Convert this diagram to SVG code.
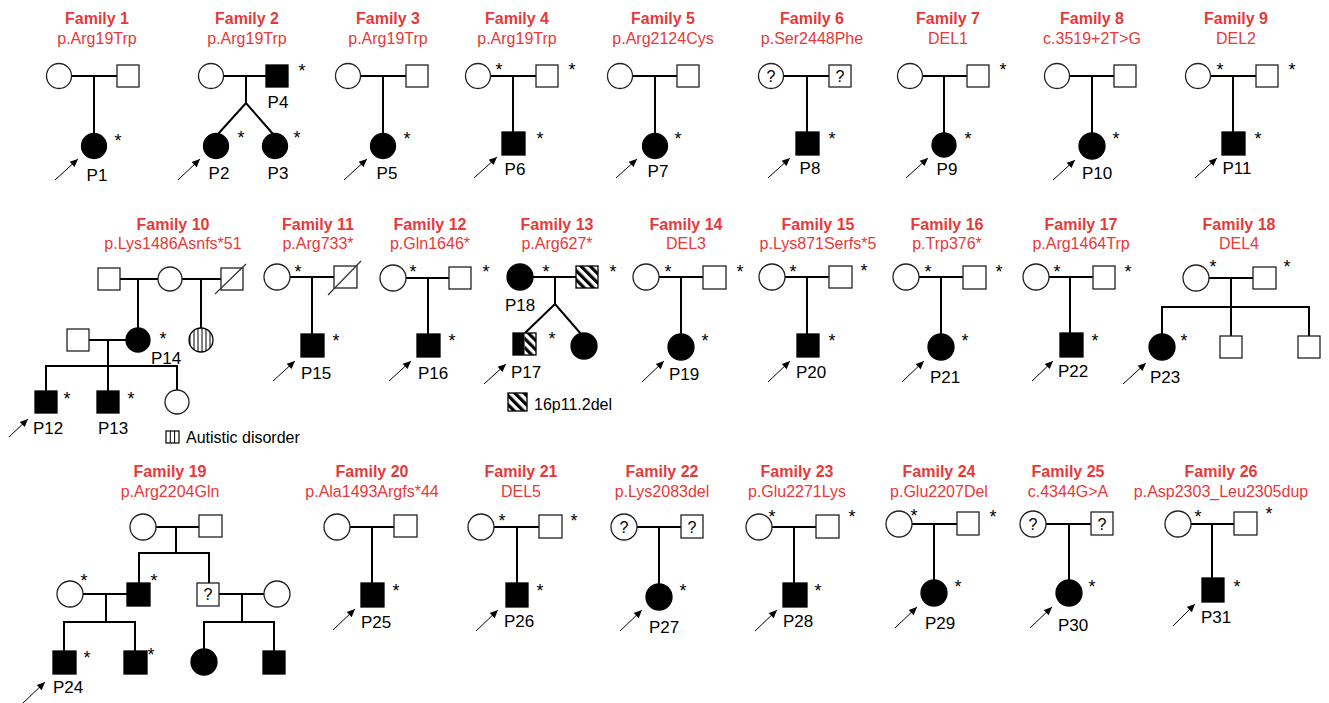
<svg xmlns="http://www.w3.org/2000/svg" width="1329" height="703" viewBox="0 0 1329 703">
<defs>
<style>
.t{font:bold 16px 'Liberation Sans',Arial,sans-serif;fill:#e8393a;text-anchor:middle}
.s{font:16px 'Liberation Sans',Arial,sans-serif;fill:#e8393a;text-anchor:middle}
.l{font:17px 'Liberation Sans',Arial,sans-serif;fill:#000;text-anchor:middle}
.g{font:16px 'Liberation Sans',Arial,sans-serif;fill:#000}
.a{font:18px 'Liberation Sans',Arial,sans-serif;fill:#000;text-anchor:middle}
.q{font:16px 'Liberation Sans',Arial,sans-serif;fill:#000;text-anchor:middle}
.o{fill:#fff;stroke:#222;stroke-width:1.3}
.f{fill:#000;stroke:#000;stroke-width:1.3}
.h{fill:url(#hatch);stroke:#000;stroke-width:1.3}
.v{fill:url(#vstripe);stroke:#000;stroke-width:1.3}
.c line,.c path{stroke:#000;stroke-width:2;fill:none}
.p line{stroke:#000;stroke-width:1;marker-end:url(#ah)}
.sl{stroke:#333;stroke-width:1.2}
</style>
<marker id="ah" viewBox="0 0 10 10" refX="10" refY="5" markerWidth="10" markerHeight="8" markerUnits="userSpaceOnUse" orient="auto"><path d="M0,0.5 L10,5 L0,9.5 z" fill="#000"/></marker>
<pattern id="hatch" width="6.5" height="6.5" patternUnits="userSpaceOnUse" patternTransform="rotate(-45)"><rect width="6.5" height="6.5" fill="#fff"/><rect width="3.2" height="6.5" fill="#000"/></pattern>
<pattern id="vstripe" width="4" height="4" patternUnits="userSpaceOnUse"><rect width="4" height="4" fill="#fff"/><rect x="1.5" width="1" height="4" fill="#000"/></pattern>
</defs>
<rect width="1329" height="703" fill="#fff"/>

<g id="titles">
<text class="t" x="97" y="24">Family 1</text><text class="s" x="97" y="44">p.Arg19Trp</text>
<text class="t" x="247" y="24">Family 2</text><text class="s" x="247" y="44">p.Arg19Trp</text>
<text class="t" x="388" y="24">Family 3</text><text class="s" x="388" y="44">p.Arg19Trp</text>
<text class="t" x="517" y="24">Family 4</text><text class="s" x="517" y="44">p.Arg19Trp</text>
<text class="t" x="663" y="24">Family 5</text><text class="s" x="663" y="44">p.Arg2124Cys</text>
<text class="t" x="812" y="24">Family 6</text><text class="s" x="812" y="44">p.Ser2448Phe</text>
<text class="t" x="948" y="24">Family 7</text><text class="s" x="948" y="44">DEL1</text>
<text class="t" x="1092" y="24">Family 8</text><text class="s" x="1092" y="44">c.3519+2T&gt;G</text>
<text class="t" x="1236" y="24">Family 9</text><text class="s" x="1236" y="44">DEL2</text>
<text class="t" x="173" y="230">Family 10</text><text class="s" x="173" y="249">p.Lys1486Asnfs*51</text>
<text class="t" x="318" y="230">Family 11</text><text class="s" x="318" y="249">p.Arg733*</text>
<text class="t" x="430" y="230">Family 12</text><text class="s" x="430" y="249">p.Gln1646*</text>
<text class="t" x="557" y="230">Family 13</text><text class="s" x="557" y="249">p.Arg627*</text>
<text class="t" x="686" y="230">Family 14</text><text class="s" x="686" y="249">DEL3</text>
<text class="t" x="818" y="230">Family 15</text><text class="s" x="818" y="249">p.Lys871Serfs*5</text>
<text class="t" x="947" y="230">Family 16</text><text class="s" x="947" y="249">p.Trp376*</text>
<text class="t" x="1081" y="230">Family 17</text><text class="s" x="1081" y="249">p.Arg1464Trp</text>
<text class="t" x="1239" y="230">Family 18</text><text class="s" x="1239" y="249">DEL4</text>
<text class="t" x="170" y="477">Family 19</text><text class="s" x="170" y="497">p.Arg2204Gln</text>
<text class="t" x="372" y="477">Family 20</text><text class="s" x="372" y="497">p.Ala1493Argfs*44</text>
<text class="t" x="521" y="477">Family 21</text><text class="s" x="521" y="497">DEL5</text>
<text class="t" x="662" y="477">Family 22</text><text class="s" x="662" y="497">p.Lys2083del</text>
<text class="t" x="797" y="477">Family 23</text><text class="s" x="797" y="497">p.Glu2271Lys</text>
<text class="t" x="939" y="477">Family 24</text><text class="s" x="939" y="497">p.Glu2207Del</text>
<text class="t" x="1068" y="477">Family 25</text><text class="s" x="1068" y="497">c.4344G&gt;A</text>
<text class="t" x="1221" y="477">Family 26</text><text class="s" x="1221" y="497">p.Asp2303_Leu2305dup</text>
</g>

<g id="connectors" class="c">
<line x1="71.5" y1="76" x2="117" y2="76"/><line x1="94" y1="76" x2="94" y2="133.5"/>
<line x1="223.5" y1="76" x2="266" y2="76"/><line x1="246" y1="76" x2="246" y2="103"/><path d="M218,134 L246,103 L273,134"/>
<line x1="360.5" y1="76" x2="406" y2="76"/><line x1="383" y1="76" x2="383" y2="133.5"/>
<line x1="490.5" y1="76" x2="536" y2="76"/><line x1="513" y1="76" x2="513" y2="132"/>
<line x1="632.5" y1="76" x2="677" y2="76"/><line x1="655" y1="76" x2="655" y2="133.5"/>
<line x1="783.5" y1="76" x2="829" y2="76"/><line x1="807" y1="76" x2="807" y2="132"/>
<line x1="922.5" y1="76" x2="967" y2="76"/><line x1="944" y1="76" x2="944" y2="133"/>
<line x1="1069.5" y1="76" x2="1114" y2="76"/><line x1="1092" y1="76" x2="1092" y2="133"/>
<line x1="1210.5" y1="76" x2="1256" y2="76"/><line x1="1233" y1="76" x2="1233" y2="132"/>
<line x1="120" y1="279" x2="158" y2="279"/><line x1="182" y1="279" x2="221" y2="279"/>
<line x1="138" y1="279" x2="138" y2="328"/><line x1="201" y1="279" x2="201" y2="328"/>
<line x1="89" y1="340" x2="126" y2="340"/><line x1="108" y1="340" x2="108" y2="366"/>
<path d="M46,391 V366 H177 V390"/><line x1="108" y1="366" x2="108" y2="391"/>
<line x1="290" y1="277" x2="334" y2="277"/><line x1="312" y1="277" x2="312" y2="334"/>
<line x1="406" y1="278" x2="449" y2="278"/><line x1="428" y1="278" x2="428" y2="334"/>
<line x1="533" y1="277" x2="576" y2="277"/><line x1="555" y1="277" x2="555" y2="304"/><path d="M525,333 L555,304 L581,334"/>
<line x1="659" y1="277" x2="703" y2="277"/><line x1="681" y1="277" x2="681" y2="334"/>
<line x1="785" y1="277" x2="829" y2="277"/><line x1="807" y1="277" x2="807" y2="334"/>
<line x1="919" y1="277" x2="963" y2="277"/><line x1="941" y1="277" x2="941" y2="334"/>
<line x1="1049" y1="277" x2="1093" y2="277"/><line x1="1070" y1="277" x2="1070" y2="333"/>
<line x1="1209" y1="278" x2="1253" y2="278"/><line x1="1231" y1="278" x2="1231" y2="336"/>
<path d="M1162,334 V307 H1309 V336"/>
<line x1="156" y1="527" x2="199" y2="527"/><line x1="176" y1="527" x2="176" y2="553"/>
<path d="M139,583 V553 H209 V583"/>
<line x1="83" y1="594" x2="127" y2="594"/><line x1="106" y1="594" x2="106" y2="622"/>
<path d="M64,651 V622 H135 V651"/>
<line x1="219" y1="594" x2="264" y2="594"/><line x1="242" y1="594" x2="242" y2="622"/>
<path d="M204,649 V622 H274 V651"/>
<line x1="350" y1="527" x2="394" y2="527"/><line x1="372" y1="527" x2="372" y2="583"/>
<line x1="494" y1="527" x2="539" y2="527"/><line x1="517" y1="527" x2="517" y2="583"/>
<line x1="637" y1="527" x2="681" y2="527"/><line x1="659" y1="527" x2="659" y2="584"/>
<line x1="772" y1="527" x2="816" y2="527"/><line x1="794" y1="527" x2="794" y2="583"/>
<line x1="912" y1="524" x2="957" y2="524"/><line x1="934" y1="524" x2="934" y2="580"/>
<line x1="1046" y1="524" x2="1091" y2="524"/><line x1="1069" y1="524" x2="1069" y2="580"/>
<line x1="1191" y1="524" x2="1234" y2="524"/><line x1="1212" y1="524" x2="1212" y2="578"/>
</g>

<g id="proband-arrows" class="p">
<line x1="55" y1="180" x2="78" y2="159"/>
<line x1="178" y1="180" x2="200" y2="159"/>
<line x1="344" y1="180" x2="367" y2="159"/>
<line x1="474" y1="178" x2="497" y2="157"/>
<line x1="616" y1="178" x2="637" y2="159"/>
<line x1="768" y1="178" x2="790" y2="158"/>
<line x1="906" y1="178" x2="928" y2="158"/>
<line x1="1053" y1="180" x2="1075" y2="160"/>
<line x1="1195" y1="178" x2="1217" y2="158"/>
<line x1="9" y1="437" x2="28" y2="419"/>
<line x1="273" y1="381" x2="295" y2="361"/>
<line x1="389" y1="381" x2="411" y2="361"/>
<line x1="484" y1="384" x2="506" y2="364"/>
<line x1="642" y1="382" x2="664" y2="361"/>
<line x1="768" y1="382" x2="790" y2="361"/>
<line x1="902" y1="382" x2="924" y2="361"/>
<line x1="1032" y1="381" x2="1053" y2="361"/>
<line x1="1123" y1="384" x2="1146" y2="363"/>
<line x1="23" y1="703" x2="45" y2="682"/>
<line x1="333" y1="630" x2="355" y2="609"/>
<line x1="476" y1="631" x2="498" y2="610"/>
<line x1="620" y1="631" x2="642" y2="610"/>
<line x1="755" y1="631" x2="777" y2="610"/>
<line x1="895" y1="628" x2="917" y2="607"/>
<line x1="1030" y1="628" x2="1052" y2="607"/>
<line x1="1173" y1="626" x2="1195" y2="604"/>
</g>

<g id="f1-mother"><circle class="o" cx="59" cy="76" r="12.5"/></g>
<g id="f1-father"><rect class="o" x="117" y="65" width="22" height="22"/></g>
<g id="P1"><circle class="f" cx="94" cy="146" r="12.5"/><text class="a" x="118" y="147">*</text><text class="l" x="97" y="181">P1</text></g>
<g id="f2-mother"><circle class="o" cx="211" cy="76" r="12.5"/></g>
<g id="P4"><rect class="f" x="266" y="65" width="22" height="22"/><text class="a" x="302" y="77">*</text><text class="l" x="278" y="108">P4</text></g>
<g id="P2"><circle class="f" cx="216" cy="146" r="12.5"/><text class="a" x="241" y="144">*</text><text class="l" x="219" y="179">P2</text></g>
<g id="P3"><circle class="f" cx="275" cy="146" r="12.5"/><text class="a" x="297" y="144">*</text><text class="l" x="278" y="179">P3</text></g>
<g id="f3-mother"><circle class="o" cx="348" cy="76" r="12.5"/></g>
<g id="f3-father"><rect class="o" x="406" y="65" width="22" height="22"/></g>
<g id="P5"><circle class="f" cx="383" cy="146" r="12.5"/><text class="a" x="407" y="145">*</text><text class="l" x="387" y="179">P5</text></g>
<g id="f4-mother"><circle class="o" cx="478" cy="76" r="12.5"/><text class="a" x="499" y="76">*</text></g>
<g id="f4-father"><rect class="o" x="536" y="65" width="22" height="22"/><text class="a" x="572" y="76">*</text></g>
<g id="P6"><rect class="f" x="502" y="132" width="23" height="23"/><text class="a" x="540" y="145">*</text><text class="l" x="515" y="175">P6</text></g>
<g id="f5-mother"><circle class="o" cx="620" cy="76" r="12.5"/></g>
<g id="f5-father"><rect class="o" x="677" y="65" width="22" height="22"/></g>
<g id="P7"><circle class="f" cx="655" cy="146" r="12.5"/><text class="a" x="678" y="145">*</text><text class="l" x="658" y="177">P7</text></g>
<g id="f6-mother"><circle class="o" cx="771" cy="76" r="12.5"/><text class="q" x="771" y="82">?</text></g>
<g id="f6-father"><rect class="o" x="829" y="65" width="22" height="22"/><text class="q" x="840" y="82">?</text></g>
<g id="P8"><rect class="f" x="796" y="132" width="23" height="23"/><text class="a" x="832" y="145">*</text><text class="l" x="810" y="174">P8</text></g>
<g id="f7-mother"><circle class="o" cx="910" cy="76" r="12.5"/></g>
<g id="f7-father"><rect class="o" x="967" y="65" width="22" height="22"/><text class="a" x="1003" y="76">*</text></g>
<g id="P9"><circle class="f" cx="944" cy="145" r="12"/><text class="a" x="968" y="145">*</text><text class="l" x="947" y="175">P9</text></g>
<g id="f8-mother"><circle class="o" cx="1057" cy="76" r="12.5"/></g>
<g id="f8-father"><rect class="o" x="1114" y="65" width="22" height="22"/></g>
<g id="P10"><circle class="f" cx="1092" cy="146" r="13"/><text class="a" x="1116" y="145">*</text><text class="l" x="1097" y="179">P10</text></g>
<g id="f9-mother"><circle class="o" cx="1198" cy="76" r="12.5"/><text class="a" x="1220" y="76">*</text></g>
<g id="f9-father"><rect class="o" x="1256" y="65" width="22" height="22"/><text class="a" x="1292" y="76">*</text></g>
<g id="P11"><rect class="f" x="1222" y="132" width="23" height="23"/><text class="a" x="1258" y="145">*</text><text class="l" x="1237" y="174">P11</text></g>

<g id="f10-grandfather1"><rect class="o" x="98" y="268" width="22" height="22"/></g>
<g id="f10-grandmother"><circle class="o" cx="170" cy="279" r="12"/></g>
<g id="f10-grandfather2"><rect class="o" x="221" y="268" width="22" height="22"/><line class="sl" x1="215" y1="294" x2="246" y2="264"/></g>
<g id="P14"><circle class="f" cx="138" cy="340" r="12"/><text class="a" x="163" y="345">*</text><text class="l" x="166" y="364">P14</text></g>
<g id="f10-aunt"><circle class="v" cx="201" cy="340" r="12"/></g>
<g id="f10-father"><rect class="o" x="67" y="329" width="22" height="22"/></g>
<g id="P12"><rect class="f" x="35" y="391" width="22" height="22"/><text class="a" x="67" y="405">*</text><text class="l" x="48" y="434">P12</text></g>
<g id="P13"><rect class="f" x="97" y="391" width="22" height="22"/><text class="a" x="131" y="405">*</text><text class="l" x="113" y="434">P13</text></g>
<g id="f10-sister"><circle class="o" cx="177" cy="402" r="12"/></g>
<g id="legend-autism"><rect x="166" y="431" width="13" height="12" fill="#fff" stroke="#000" stroke-width="1.2"/><line x1="170.3" y1="431" x2="170.3" y2="443" stroke="#000" stroke-width="1"/><line x1="174.6" y1="431" x2="174.6" y2="443" stroke="#000" stroke-width="1"/><text class="g" x="186" y="443">Autistic disorder</text></g>
<g id="f11-mother"><circle class="o" cx="277" cy="277" r="13"/><text class="a" x="298" y="278">*</text></g>
<g id="f11-father"><rect class="o" x="334" y="266" width="23" height="22"/><line class="sl" x1="328" y1="295" x2="361" y2="261"/></g>
<g id="P15"><rect class="f" x="301" y="334" width="23" height="23"/><text class="a" x="336" y="347">*</text><text class="l" x="316" y="379">P15</text></g>
<g id="f12-mother"><circle class="o" cx="393" cy="278" r="13"/><text class="a" x="413" y="278">*</text></g>
<g id="f12-father"><rect class="o" x="449" y="267" width="22" height="22"/><text class="a" x="486" y="278">*</text></g>
<g id="P16"><rect class="f" x="417" y="334" width="23" height="23"/><text class="a" x="452" y="347">*</text><text class="l" x="433" y="379">P16</text></g>
<g id="P18"><circle class="f" cx="520" cy="277" r="13"/><text class="a" x="546" y="278">*</text><text class="l" x="520" y="311">P18</text></g>
<g id="f13-father"><rect class="h" x="576" y="266" width="22" height="22"/><text class="a" x="613" y="278">*</text></g>
<g id="P17"><rect x="524.5" y="333" width="11.5" height="22" fill="url(#hatch)"/><rect x="513" y="333" width="11.5" height="22" fill="#000"/><rect x="513" y="333" width="23" height="22" fill="none" stroke="#000" stroke-width="1.3"/><text class="a" x="552" y="345">*</text><text class="l" x="526" y="378">P17</text></g>
<g id="f13-sister"><circle class="f" cx="584" cy="346" r="13"/></g>
<g id="legend-16p"><rect class="h" x="508" y="393" width="19" height="18"/><text class="g" x="534" y="410">16p11.2del</text></g>
<g id="f14-mother"><circle class="o" cx="646" cy="277" r="13"/><text class="a" x="668" y="278">*</text></g>
<g id="f14-father"><rect class="o" x="703" y="266" width="23" height="23"/><text class="a" x="740" y="278">*</text></g>
<g id="P19"><circle class="f" cx="681" cy="347" r="13"/><text class="a" x="705" y="347">*</text><text class="l" x="684" y="380">P19</text></g>
<g id="f15-mother"><circle class="o" cx="772" cy="277" r="13"/><text class="a" x="793" y="278">*</text></g>
<g id="f15-father"><rect class="o" x="829" y="266" width="23" height="22"/><text class="a" x="864" y="277">*</text></g>
<g id="P20"><rect class="f" x="797" y="334" width="22" height="23"/><text class="a" x="832" y="347">*</text><text class="l" x="811" y="378">P20</text></g>
<g id="f16-mother"><circle class="o" cx="906" cy="277" r="13"/><text class="a" x="928" y="278">*</text></g>
<g id="f16-father"><rect class="o" x="963" y="266" width="23" height="23"/><text class="a" x="999" y="278">*</text></g>
<g id="P21"><circle class="f" cx="941" cy="347" r="13"/><text class="a" x="965" y="347">*</text><text class="l" x="945" y="383">P21</text></g>
<g id="f17-mother"><circle class="o" cx="1036" cy="277" r="13"/><text class="a" x="1057" y="278">*</text></g>
<g id="f17-father"><rect class="o" x="1093" y="266" width="22" height="23"/><text class="a" x="1128" y="278">*</text></g>
<g id="P22"><rect class="f" x="1060" y="333" width="23" height="24"/><text class="a" x="1095" y="347">*</text><text class="l" x="1073" y="377">P22</text></g>
<g id="f18-mother"><circle class="o" cx="1196" cy="278" r="13"/><text class="a" x="1213" y="273">*</text></g>
<g id="f18-father"><rect class="o" x="1253" y="267" width="23" height="22"/><text class="a" x="1287" y="273">*</text></g>
<g id="P23"><circle class="f" cx="1162" cy="347" r="13"/><text class="a" x="1184" y="347">*</text><text class="l" x="1165" y="383">P23</text></g>
<g id="f18-brother1"><rect class="o" x="1220" y="336" width="22" height="22"/></g>
<g id="f18-brother2"><rect class="o" x="1298" y="336" width="22" height="22"/></g>

<g id="f19-grandmother"><circle class="o" cx="143" cy="527" r="13"/></g>
<g id="f19-grandfather"><rect class="o" x="199" y="515" width="23" height="22"/></g>
<g id="f19-mother"><circle class="o" cx="70" cy="594" r="13"/><text class="a" x="84" y="587">*</text></g>
<g id="f19-father"><rect class="f" x="127" y="583" width="23" height="23"/><text class="a" x="154" y="587">*</text></g>
<g id="f19-uncle"><rect class="o" x="197" y="583" width="22" height="23"/><text class="q" x="208" y="600">?</text></g>
<g id="f19-aunt"><circle class="o" cx="277" cy="594" r="13"/></g>
<g id="P24"><rect class="f" x="53" y="651" width="23" height="23"/><text class="a" x="87" y="664">*</text><text class="l" x="68" y="693">P24</text></g>
<g id="f19-brother"><rect class="f" x="124" y="651" width="23" height="23"/><text class="a" x="151" y="661">*</text></g>
<g id="f19-cousin1"><circle class="f" cx="204" cy="662" r="13"/></g>
<g id="f19-cousin2"><rect class="f" x="263" y="651" width="22" height="23"/></g>
<g id="f20-mother"><circle class="o" cx="337" cy="527" r="13"/></g>
<g id="f20-father"><rect class="o" x="394" y="515" width="23" height="22"/></g>
<g id="P25"><rect class="f" x="361" y="583" width="23" height="24"/><text class="a" x="396" y="597">*</text><text class="l" x="376" y="628">P25</text></g>
<g id="f21-mother"><circle class="o" cx="481" cy="527" r="13"/><text class="a" x="502" y="527">*</text></g>
<g id="f21-father"><rect class="o" x="539" y="515" width="23" height="23"/><text class="a" x="574" y="527">*</text></g>
<g id="P26"><rect class="f" x="506" y="583" width="22" height="24"/><text class="a" x="540" y="597">*</text><text class="l" x="519" y="627">P26</text></g>
<g id="f22-mother"><circle class="o" cx="624" cy="527" r="13"/><text class="q" x="624" y="533">?</text></g>
<g id="f22-father"><rect class="o" x="681" y="515" width="22" height="23"/><text class="q" x="692" y="532.5">?</text></g>
<g id="P27"><circle class="f" cx="659" cy="597" r="13"/><text class="a" x="683" y="597">*</text><text class="l" x="664" y="633">P27</text></g>
<g id="f23-mother"><circle class="o" cx="759" cy="527" r="13"/><text class="a" x="772" y="523">*</text></g>
<g id="f23-father"><rect class="o" x="816" y="515" width="23" height="23"/><text class="a" x="852" y="523">*</text></g>
<g id="P28"><rect class="f" x="783" y="583" width="24" height="24"/><text class="a" x="818" y="597">*</text><text class="l" x="798" y="627">P28</text></g>
<g id="f24-mother"><circle class="o" cx="899" cy="524" r="13"/><text class="a" x="914" y="522">*</text></g>
<g id="f24-father"><rect class="o" x="957" y="512" width="22" height="23"/><text class="a" x="993" y="523">*</text></g>
<g id="P29"><circle class="f" cx="934" cy="593" r="13"/><text class="a" x="958" y="593">*</text><text class="l" x="940" y="629">P29</text></g>
<g id="f25-mother"><circle class="o" cx="1033" cy="524" r="13"/><text class="q" x="1033" y="530">?</text></g>
<g id="f25-father"><rect class="o" x="1091" y="512" width="22" height="23"/><text class="q" x="1102" y="529.5">?</text></g>
<g id="P30"><circle class="f" cx="1069" cy="593" r="13"/><text class="a" x="1092" y="593">*</text><text class="l" x="1073" y="631">P30</text></g>
<g id="f26-mother"><circle class="o" cx="1178" cy="524" r="13"/><text class="a" x="1198" y="523">*</text></g>
<g id="f26-father"><rect class="o" x="1234" y="512" width="23" height="23"/><text class="a" x="1269" y="520">*</text></g>
<g id="P31"><rect class="f" x="1202" y="578" width="22" height="24"/><text class="a" x="1237" y="593">*</text><text class="l" x="1216" y="623">P31</text></g>
</svg>
